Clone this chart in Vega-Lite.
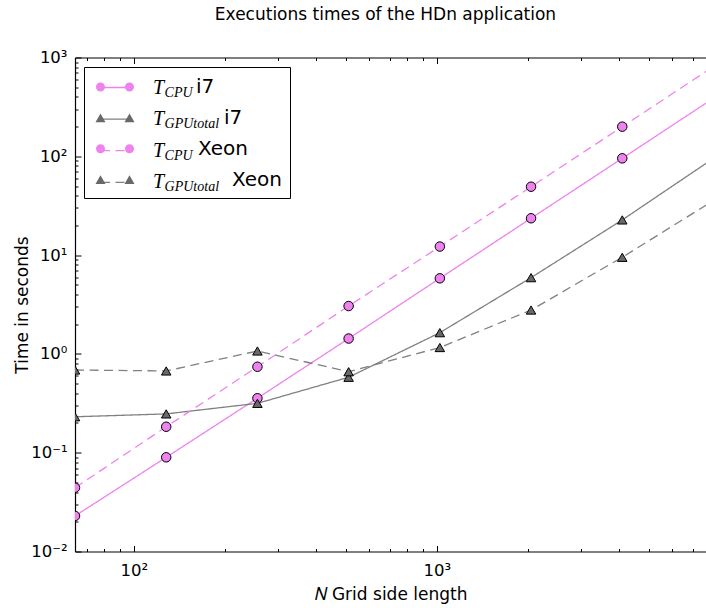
{
  "$schema": "https://vega.github.io/schema/vega-lite/v6.json",
  "width": 631,
  "height": 494,
  "autosize": {"type": "none"},
  "padding": {"left": 75, "top": 57.5, "right": 0, "bottom": 56.5},
  "background": "white",
  "title": {"text": "Executions times of the HDn application", "font": "DejaVu Sans", "fontSize": 17, "fontWeight": "normal", "color": "black", "offset": 26, "anchor": "middle", "frame": "group", "dx": -5},
  "datasets": {
    "lines": [
      {"series": "T_CPU i7", "N": 64, "t": 0.0229},
      {"series": "T_CPU i7", "N": 128, "t": 0.0898},
      {"series": "T_CPU i7", "N": 256, "t": 0.356},
      {"series": "T_CPU i7", "N": 512, "t": 1.43},
      {"series": "T_CPU i7", "N": 1024, "t": 5.82},
      {"series": "T_CPU i7", "N": 2048, "t": 23.6},
      {"series": "T_CPU i7", "N": 4096, "t": 95.4},
      {"series": "T_CPU i7", "N": 8192, "t": 387},
      {"series": "T_GPUtotal i7", "N": 64, "t": 0.231},
      {"series": "T_GPUtotal i7", "N": 128, "t": 0.247},
      {"series": "T_GPUtotal i7", "N": 256, "t": 0.316},
      {"series": "T_GPUtotal i7", "N": 512, "t": 0.58},
      {"series": "T_GPUtotal i7", "N": 1024, "t": 1.64},
      {"series": "T_GPUtotal i7", "N": 2048, "t": 5.91},
      {"series": "T_GPUtotal i7", "N": 4096, "t": 22.7},
      {"series": "T_GPUtotal i7", "N": 8192, "t": 95.3},
      {"series": "T_CPU Xeon", "N": 64, "t": 0.0442},
      {"series": "T_CPU Xeon", "N": 128, "t": 0.183},
      {"series": "T_CPU Xeon", "N": 256, "t": 0.741},
      {"series": "T_CPU Xeon", "N": 512, "t": 3.05},
      {"series": "T_CPU Xeon", "N": 1024, "t": 12.2},
      {"series": "T_CPU Xeon", "N": 2048, "t": 49.2},
      {"series": "T_CPU Xeon", "N": 4096, "t": 199.5},
      {"series": "T_CPU Xeon", "N": 8192, "t": 809},
      {"series": "T_GPUtotal Xeon", "N": 64, "t": 0.687},
      {"series": "T_GPUtotal Xeon", "N": 128, "t": 0.672},
      {"series": "T_GPUtotal Xeon", "N": 256, "t": 1.07},
      {"series": "T_GPUtotal Xeon", "N": 512, "t": 0.66},
      {"series": "T_GPUtotal Xeon", "N": 1024, "t": 1.16},
      {"series": "T_GPUtotal Xeon", "N": 2048, "t": 2.78},
      {"series": "T_GPUtotal Xeon", "N": 4096, "t": 9.5},
      {"series": "T_GPUtotal Xeon", "N": 8192, "t": 35.7}
    ],
    "points": [
      {"series": "T_CPU i7", "N": 64, "t": 0.0229},
      {"series": "T_CPU i7", "N": 128, "t": 0.0898},
      {"series": "T_CPU i7", "N": 256, "t": 0.356},
      {"series": "T_CPU i7", "N": 512, "t": 1.43},
      {"series": "T_CPU i7", "N": 1024, "t": 5.82},
      {"series": "T_CPU i7", "N": 2048, "t": 23.6},
      {"series": "T_CPU i7", "N": 4096, "t": 95.4},
      {"series": "T_GPUtotal i7", "N": 64, "t": 0.231},
      {"series": "T_GPUtotal i7", "N": 128, "t": 0.247},
      {"series": "T_GPUtotal i7", "N": 256, "t": 0.316},
      {"series": "T_GPUtotal i7", "N": 512, "t": 0.58},
      {"series": "T_GPUtotal i7", "N": 1024, "t": 1.64},
      {"series": "T_GPUtotal i7", "N": 2048, "t": 5.91},
      {"series": "T_GPUtotal i7", "N": 4096, "t": 22.7},
      {"series": "T_CPU Xeon", "N": 64, "t": 0.0442},
      {"series": "T_CPU Xeon", "N": 128, "t": 0.183},
      {"series": "T_CPU Xeon", "N": 256, "t": 0.741},
      {"series": "T_CPU Xeon", "N": 512, "t": 3.05},
      {"series": "T_CPU Xeon", "N": 1024, "t": 12.2},
      {"series": "T_CPU Xeon", "N": 2048, "t": 49.2},
      {"series": "T_CPU Xeon", "N": 4096, "t": 199.5},
      {"series": "T_GPUtotal Xeon", "N": 64, "t": 0.687},
      {"series": "T_GPUtotal Xeon", "N": 128, "t": 0.672},
      {"series": "T_GPUtotal Xeon", "N": 256, "t": 1.07},
      {"series": "T_GPUtotal Xeon", "N": 512, "t": 0.66},
      {"series": "T_GPUtotal Xeon", "N": 1024, "t": 1.16},
      {"series": "T_GPUtotal Xeon", "N": 2048, "t": 2.78},
      {"series": "T_GPUtotal Xeon", "N": 4096, "t": 9.5}
    ]
  },
  "config": {
    "view": {"stroke": null},
    "axis": {"domainColor": "black", "domainWidth": 1.2, "tickColor": "black", "tickWidth": 1, "labelColor": "black", "titleColor": "black", "labelFont": "DejaVu Sans", "titleFont": "DejaVu Sans", "labelFontSize": 16.5, "titleFontSize": 17, "titleFontWeight": "normal", "grid": false}
  },
  "resolve": {"axis": {"x": "independent"}, "scale": {"fill": "independent", "shape": "independent"}},
  "encoding": {
    "y": {
      "field": "t", "type": "quantitative",
      "scale": {"type": "log", "domain": [0.01, 1000], "nice": false},
      "axis": {
        "orient": "left",
        "title": "Time in seconds",
        "titlePadding": -1,
        "values": [0.01,0.02,0.03,0.04,0.05,0.06,0.07,0.08,0.09,0.1,0.2,0.3,0.4,0.5,0.6,0.7,0.8,0.9,1,2,3,4,5,6,7,8,9,10,20,30,40,50,60,70,80,90,100,200,300,400,500,600,700,800,900,1000],
        "labelExpr": "abs(log(datum.value)/LN10 - round(log(datum.value)/LN10)) < 0.001 ? '10' + ['⁻²','⁻¹','⁰','¹','²','³'][round(log(datum.value)/LN10)+2] : ''",
        "labelOverlap": false,
        "labelFlush": false,
        "tickSize": {"condition": {"test": "abs(log(datum.value)/LN10 - round(log(datum.value)/LN10)) < 0.001", "value": -6}, "value": -3},
        "labelPadding": 14
      }
    }
  },
  "layer": [
    {
      "data": {"name": "lines"},
      "mark": {"type": "line", "clip": true, "strokeWidth": 1.3},
      "encoding": {
        "x": {
          "field": "N", "type": "quantitative",
          "scale": {"type": "log", "domain": [64, 7740], "nice": false},
          "axis": {
            "orient": "bottom",
            "title": "𝑁 Grid side length",
            "titlePadding": 4,
            "values": [70,80,90,100,200,300,400,500,600,700,800,900,1000,2000,3000,4000,5000,6000,7000],
            "labelExpr": "abs(log(datum.value)/LN10 - round(log(datum.value)/LN10)) < 0.001 ? '10' + ['⁻²','⁻¹','⁰','¹','²','³','⁴'][round(log(datum.value)/LN10)+2] : ''",
            "labelOverlap": false,
            "labelFlush": false,
            "tickSize": {"condition": {"test": "abs(log(datum.value)/LN10 - round(log(datum.value)/LN10)) < 0.001", "value": -6}, "value": -3},
            "labelPadding": 17
          }
        },
        "y": {"field": "t", "type": "quantitative"},
        "stroke": {
          "field": "series", "type": "nominal",
          "scale": {"domain": ["T_CPU i7", "T_GPUtotal i7", "T_CPU Xeon", "T_GPUtotal Xeon"], "range": ["violet", "gray", "violet", "gray"]},
          "legend": {
            "orient": "none", "legendX": 9, "legendY": 9.5, "title": null,
            "padding": 5, "strokeColor": "black", "fillColor": null,
            "symbolType": "stroke", "symbolSize": 841, "symbolStrokeWidth": 1, "symbolOffset": 11,
            "labelOffset": 22, "rowPadding": 5.6,
            "labelFont": "Liberation Serif", "labelFontStyle": "italic", "labelFontSize": 20, "labelColor": "black", "labelLimit": 500,
            "labelExpr": "'T\u2003\u2003\u2003\u2003\u2003\u2003\u200B'",
            "zindex": 1,
            "encode": {"symbols": {"update": {"strokeDash": {"signal": "(datum.value == 'T_CPU Xeon' || datum.value == 'T_GPUtotal Xeon') ? [9,5.5] : [1,0]"}, "strokeWidth": {"value": 1.3}}}}
          }
        },
        "strokeDash": {
          "field": "series", "type": "nominal", "sort": null,
          "scale": {"range": [[1,0],[1,0],[9,5.5],[9,5.5]]},
          "legend": {
            "orient": "none", "legendX": 9, "legendY": 9.5, "title": null,
            "padding": 5, "strokeColor": null, "fillColor": null,
            "symbolType": "stroke", "symbolSize": 841, "symbolStrokeWidth": 1, "symbolOffset": 11, "symbolOpacity": 0,
            "labelOffset": 34.6, "rowPadding": 3.3,
            "labelFont": "Liberation Serif", "labelFontStyle": "italic", "labelFontSize": 14, "labelColor": "black", "labelLimit": 500,
            "labelExpr": "(datum.label == 'T_CPU i7' || datum.label == 'T_CPU Xeon') ? 'CPU' : 'GPUtotal'",
            "zindex": 2,
            "encode": {"labels": {"update": {"dy": {"value": 6}}}}
          }
        }
      }
    },
    {
      "data": {"name": "points"},
      "mark": {"type": "point", "filled": true, "clip": true, "stroke": "black", "strokeWidth": 1, "opacity": 1, "size": 90},
      "encoding": {
        "x": {
          "field": "N", "type": "quantitative",
          "scale": {"type": "log", "domain": [64, 7740], "nice": false},
          "axis": {
            "orient": "top",
            "title": null,
            "labels": false,
            "values": [70,80,90,100,200,300,400,500,600,700,800,900,1000,2000,3000,4000,5000,6000,7000],
            "tickSize": {"condition": {"test": "abs(log(datum.value)/LN10 - round(log(datum.value)/LN10)) < 0.001", "value": -6}, "value": -3}
          }
        },
        "y": {"field": "t", "type": "quantitative"},
        "fill": {
          "field": "series", "type": "nominal", "sort": null,
          "scale": {"range": ["violet", "dimgray", "violet", "dimgray"]},
          "legend": null
        },
        "shape": {
          "field": "series", "type": "nominal", "sort": null,
          "scale": {"range": ["circle", "triangle-up", "circle", "triangle-up"]},
          "legend": null
        }
      }
    },
    {
      "data": {"name": "points"},
      "mark": {"type": "point", "filled": true, "clip": true, "stroke": "black", "strokeWidth": 1, "opacity": 0, "size": 841},
      "encoding": {
        "x": {
          "field": "N", "type": "quantitative",
          "scale": {"type": "log", "domain": [64, 7740], "nice": false},
          "axis": null
        },
        "y": {"field": "t", "type": "quantitative"},
        "fill": {
          "field": "series", "type": "nominal", "sort": null,
          "scale": {"range": ["violet", "dimgray", "violet", "dimgray"]},
          "legend": {
            "orient": "none", "legendX": 9, "legendY": 9.5, "title": null,
            "padding": 5, "strokeColor": null, "fillColor": null,
            "symbolSize": 841, "symbolStrokeWidth": 1, "symbolOffset": 11, "symbolStrokeColor": "black", "symbolOpacity": 1,
            "labelOffset": 22, "rowPadding": 5.9,
            "labelFont": "DejaVu Sans", "labelFontSize": 20, "labelColor": "black", "labelLimit": 500,
            "labelExpr": "datum.label == 'T_CPU i7' ? '\u200B\u2003\u2003\u2009i7' : datum.label == 'T_GPUtotal i7' ? '\u200B\u2003\u2003\u2003\u2002\u200Ai7' : datum.label == 'T_CPU Xeon' ? '\u200B\u2003\u2003\u2009\u200AXeon' : '\u200B\u2003\u2003\u2003\u2003Xeon'",
            "zindex": 3
          }
        },
        "shape": {
          "field": "series", "type": "nominal", "sort": null,
          "scale": {"range": [
            "M-1.31,0A0.31,0.31,0,1,0,-0.69,0A0.31,0.31,0,1,0,-1.31,0ZM0.69,0A0.31,0.31,0,1,0,1.31,0A0.31,0.31,0,1,0,0.69,0Z",
            "M-1,-0.3L-0.655,0.3L-1.345,0.3ZM1,-0.3L1.345,0.3L0.655,0.3Z",
            "M-1.31,0A0.31,0.31,0,1,0,-0.69,0A0.31,0.31,0,1,0,-1.31,0ZM0.69,0A0.31,0.31,0,1,0,1.31,0A0.31,0.31,0,1,0,0.69,0Z",
            "M-1,-0.3L-0.655,0.3L-1.345,0.3ZM1,-0.3L1.345,0.3L0.655,0.3Z"
          ]},
          "legend": {
            "orient": "none", "legendX": 9, "legendY": 9.5, "title": null,
            "padding": 5, "strokeColor": null, "fillColor": null,
            "symbolSize": 841, "symbolStrokeWidth": 1, "symbolOffset": 11, "symbolStrokeColor": "black", "symbolOpacity": 1,
            "labelOffset": 22, "rowPadding": 5.9,
            "labelFont": "DejaVu Sans", "labelFontSize": 20, "labelColor": "black", "labelLimit": 500,
            "labelExpr": "datum.label == 'T_CPU i7' ? '\u200B\u2003\u2003\u2009i7' : datum.label == 'T_GPUtotal i7' ? '\u200B\u2003\u2003\u2003\u2002\u200Ai7' : datum.label == 'T_CPU Xeon' ? '\u200B\u2003\u2003\u2009\u200AXeon' : '\u200B\u2003\u2003\u2003\u2003Xeon'",
            "zindex": 3
          }
        }
      }
    }
  ]
}
